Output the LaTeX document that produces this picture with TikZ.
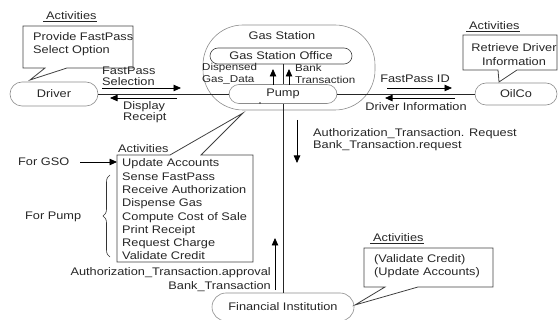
\documentclass[tikz,border=0pt]{standalone}
\usepackage{fontspec}
\setmainfont{Liberation Sans}[FakeStretch=1.16]
\usetikzlibrary{arrows.meta,decorations.pathreplacing}

\begin{document}
\begin{tikzpicture}[x=1pt,y=-1pt,
  every node/.style={font=\fontsize{11}{13}\selectfont, text=black!85, inner sep=0pt},
  lines/.style={font=\fontsize{11}{#1}\selectfont, align=left},
  small/.style={font=\fontsize{10}{#1}\selectfont, align=left},
  actor/.style={draw=black!45, line width=0.6pt},
  note/.style={draw=black!75, line width=0.8pt, line join=miter},
  wire/.style={draw=black!85, line width=0.8pt},
  flow/.style={draw=black, line width=0.8pt, -{Triangle[length=7.5pt,width=6.5pt]}},
]
\useasboundingbox (0,0) rectangle (559,320);

% ---------- actors ----------
\node[actor, rounded corners=12pt, minimum width=88pt, minimum height=24pt] (driver) at (54,94) {Driver};
\node[actor, rounded corners=40pt, minimum width=172pt, minimum height=85pt] (station) at (289,67.5) {};
\node (stationlbl) at (282,36) {Gas Station};
\node[actor, draw=black!75, rounded corners=8pt, minimum width=142pt, minimum height=16pt] (office) at (281,56) {Gas Station Office};
\node[actor, rounded corners=10pt, minimum width=108pt, minimum height=19pt] (pump) at (283,94) {Pump};
\node[actor, rounded corners=11pt, minimum width=82pt, minimum height=22pt] (oilco) at (516,94) {OilCo};
\node[actor, rounded corners=14pt, minimum width=142pt, minimum height=28pt] (bank) at (283,307) {Financial Institution};
\fill[black!80] (260,103) circle (0.9pt);

% ---------- links between actors ----------
\draw[wire] (driver.east) -- (pump.west);
\draw[wire] (pump.east) -- (oilco.west);
\draw[wire] (office.south -| pump.north) -- (pump.north);
\draw[wire] (pump.south) -- (bank.north);

% ---------- data flows ----------
\coordinate (selA) at (102,88);  \coordinate (selB) at (181,88);
\coordinate (recA) at (177,98);  \coordinate (recB) at (110,98);
\coordinate (gasA) at (273,85);  \coordinate (gasB) at (273,69);
\coordinate (bnkA) at (289,85);  \coordinate (bnkB) at (289,69);
\coordinate (idA)  at (387,88);  \coordinate (idB)  at (452,88);
\coordinate (infA) at (455,98);  \coordinate (infB) at (385,98);
\coordinate (reqA) at (297,120); \coordinate (reqB) at (297,163);
\coordinate (apA)  at (275,290); \coordinate (apB)  at (275,238);
\coordinate (gsoA) at (80,162);  \coordinate (gsoB) at (117,162);
\foreach \a/\b in {selA/selB, recA/recB, gasA/gasB, bnkA/bnkB, idA/idB, infA/infB, reqA/reqB, apA/apB, gsoA/gsoB}
  \draw[flow] (\a) -- (\b);

\node[lines=11, anchor=west] (sellbl) at (102,76) {FastPass\\Selection};
\node[lines=11, anchor=west] (reclbl) at (123,112.5) {Display\\Receipt};
\node[small=12, anchor=west] (gaslbl) at (202,74) {Dispensed\\Gas\_Data};
\node[small=12, anchor=west] (bnklbl) at (295,74) {Bank\\Transaction};
\node (idlbl) at (415,79) {FastPass ID};
\node (inflbl) at (416,107) {Driver Information};
\node[lines=12, anchor=west] (reqlbl) at (313,140) {Authorization\_Transaction. Request\\Bank\_Transaction.request};
\node[lines=14, align=right, anchor=east] (aplbl) at (271,280) {Authorization\_Transaction.approval\\Bank\_Transaction};

% ---------- activity notes ----------
% driver
\node[anchor=base west] (drvact) at (43,19.5) {\underline{\hspace{3pt}Activities}};
\draw[note] (45,68) -- (23,68) -- (23,26) -- (133,26) -- (133,68) -- (67,68) -- (30,80) -- cycle;
\node[lines=13, anchor=west] (drvtxt) at (33,44.5) {Provide FastPass\\Select Option};

% oil company
\node[anchor=base west] (oilact) at (466,30) {\underline{\hspace{3pt}Activities}};
\draw[note] (498,70) -- (463,70) -- (463,35) -- (557,35) -- (557,70) -- (517,70) -- (499,82) -- cycle;
\node[lines=13.5, align=center] (oiltxt) at (514,54.5) {Retrieve Driver\\Information};

% pump
\node[anchor=base west] (pmpact) at (118,152.5) {Activities};
\draw[note] (170,155) -- (117,155) -- (117,262) -- (253,262) -- (253,155) -- (201,155) -- (243,113) -- cycle;
\node[lines=13.3, anchor=west] (pmptxt) at (122,209.5) {Update Accounts\\Sense FastPass\\Receive Authorization\\Dispense Gas\\Compute Cost of Sale\\Print Receipt\\Request Charge\\Validate Credit};
\node[anchor=west] (gso) at (18,162) {For GSO};
\node[anchor=west] (forpump) at (25,217) {For Pump};
\draw[black!80, line width=0.6pt, decorate, decoration={brace, amplitude=7pt}] (110,257) -- (110,175);

% financial institution
\node[anchor=base west] (fiact) at (370,241.5) {\underline{\hspace{3pt}Activities}};
\draw[note] (385,287) -- (364,287) -- (364,248) -- (493,248) -- (493,287) -- (418,287) -- (355,305) -- cycle;
\node[lines=13, anchor=west] (fitxt) at (374,266.5) {(Validate Credit)\\(Update Accounts)};
\end{tikzpicture}
\end{document}
